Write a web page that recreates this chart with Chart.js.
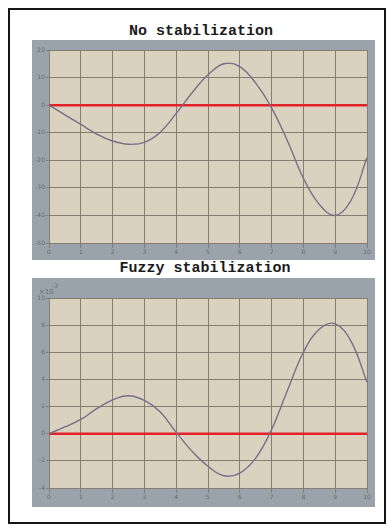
<!DOCTYPE html>
<html>
<head>
<meta charset="utf-8">
<script src="https://cdn.jsdelivr.net/npm/chart.js@4.4.0/dist/chart.umd.min.js"></script>
<style>
  html, body { margin: 0; padding: 0; background: #ffffff; }
  body { width: 392px; height: 530px; position: relative; overflow: hidden; }
  #frame { position: absolute; left: 8px; top: 8px; width: 374px; height: 512px; border: 2px solid #151515; }
  .title { position: absolute; font: bold 15px "Liberation Mono", "DejaVu Sans Mono", monospace; color: #1c1c1c;
           white-space: nowrap; transform: translateX(-50%); line-height: 16px; }
  .panel { position: absolute; left: 32px; width: 343px; background: #9aa3ac; }
  .panel canvas { display: block; }
</style>
</head>
<body>
<div id="frame"></div>
<div class="title" style="left:201px; top:24px;">No stabilization</div>
<div class="panel" style="top:40px; height:220px;"><canvas id="c1" width="343" height="220"></canvas></div>
<div class="title" style="left:205px; top:261px;">Fuzzy stabilization</div>
<div class="panel" style="top:278px; height:229px;"><canvas id="c2" width="343" height="229"></canvas></div>

<script>
// sample positions along the horizontal axis
const xValues = [0, 0.5, 1, 1.5, 2, 2.5, 3, 3.5, 4, 4.5, 5, 5.5, 6, 6.5, 7, 7.5, 8, 8.5, 9, 9.5, 10];

// response without stabilization
const noStabilization = [0, -3.5, -7, -10.5, -13, -14.2, -13.5, -9.8, -3, 4.5, 11, 15, 14, 8, -1, -13, -26.5, -36, -40, -34.5, -19];

// response with fuzzy stabilization (units of 10^-3)
const fuzzyStabilization = [0, 0.5, 1.05, 1.85, 2.5, 2.8, 2.45, 1.6, 0.1, -1.3, -2.4, -3.1, -2.9, -1.8, 0.3, 3.2, 6.0, 7.7, 8.1, 6.8, 3.8];

// tick labels
const xTicks = [0, 1, 2, 3, 4, 5, 6, 7, 8, 9, 10];
const yTicksTop = [20, 10, 0, -10, -20, -30, -40, -50];
const yTicksBottom = [10, 8, 6, 4, 2, 0, -2, -4];

// reference (zero) line end points
const zeroLine = [0, 0];
const zeroLineX = [0, 10];

const GRID = '#867f71';
const PLOT_BG = '#dad1bf';
const CURVE = '#766f8a';
const RED = '#e3222b';
const TICK_TEXT = '#656c75';

const plotBackground = {
  id: 'plotBackground',
  beforeDraw(chart) {
    const { ctx, chartArea: a } = chart;
    ctx.save();
    ctx.fillStyle = PLOT_BG;
    ctx.fillRect(a.left, a.top, a.right - a.left, a.bottom - a.top);
    ctx.restore();
  }
};

const exponentLabel = {
  id: 'exponentLabel',
  afterDraw(chart, args, opts) {
    if (!opts.text) return;
    const ctx = chart.ctx;
    ctx.save();
    ctx.fillStyle = TICK_TEXT;
    ctx.textBaseline = 'alphabetic';
    ctx.font = '7px "DejaVu Sans"';
    ctx.fillText('\u00d710', 7, 16);
    ctx.font = '6px "DejaVu Sans"';
    ctx.fillText(opts.text, 20, 10);
    ctx.restore();
  }
};

function makeChart(id, values, yTicks, pad, exponent) {
  const yMin = Math.min(...yTicks), yMax = Math.max(...yTicks);
  return new Chart(document.getElementById(id), {
    type: 'line',
    data: {
      datasets: [
        {
          data: zeroLineX.map((x, i) => ({ x, y: zeroLine[i] })),
          borderColor: RED, borderWidth: 2.5, pointRadius: 0, order: 2
        },
        {
          data: xValues.map((x, i) => ({ x, y: values[i] })),
          borderColor: CURVE, borderWidth: 1.4, pointRadius: 0,
          tension: 0.4, order: 1
        }
      ]
    },
    options: {
      responsive: false,
      animation: false,
      devicePixelRatio: 1,
      layout: { padding: { top: pad.top, right: 8, left: 0, bottom: 0 } },
      plugins: { legend: { display: false }, tooltip: { enabled: false }, exponentLabel: { text: exponent } },
      scales: {
        x: {
          type: 'linear', min: 0, max: 10,
          afterBuildTicks: s => { s.ticks = xTicks.map(v => ({ value: v })); },
          afterFit: s => { s.height = pad.bottom; },
          grid: { color: GRID, lineWidth: 1, tickLength: 5, tickColor: GRID },
          border: { color: GRID },
          ticks: { color: TICK_TEXT, font: { size: 6, family: 'DejaVu Sans' }, padding: 1, maxRotation: 0 }
        },
        y: {
          min: yMin, max: yMax,
          afterBuildTicks: s => { s.ticks = yTicks.map(v => ({ value: v })); },
          afterFit: s => { s.width = 17; },
          grid: { color: GRID, lineWidth: 1, tickLength: 3, tickColor: GRID },
          border: { color: GRID },
          ticks: { color: TICK_TEXT, font: { size: 6, family: 'DejaVu Sans' }, padding: 1 }
        }
      }
    },
    plugins: [plotBackground, exponentLabel]
  });
}

makeChart('c1', noStabilization, yTicksTop, { top: 10, bottom: 17 }, '');
makeChart('c2', fuzzyStabilization, yTicksBottom, { top: 20, bottom: 19 }, '-3');
</script>
</body>
</html>
